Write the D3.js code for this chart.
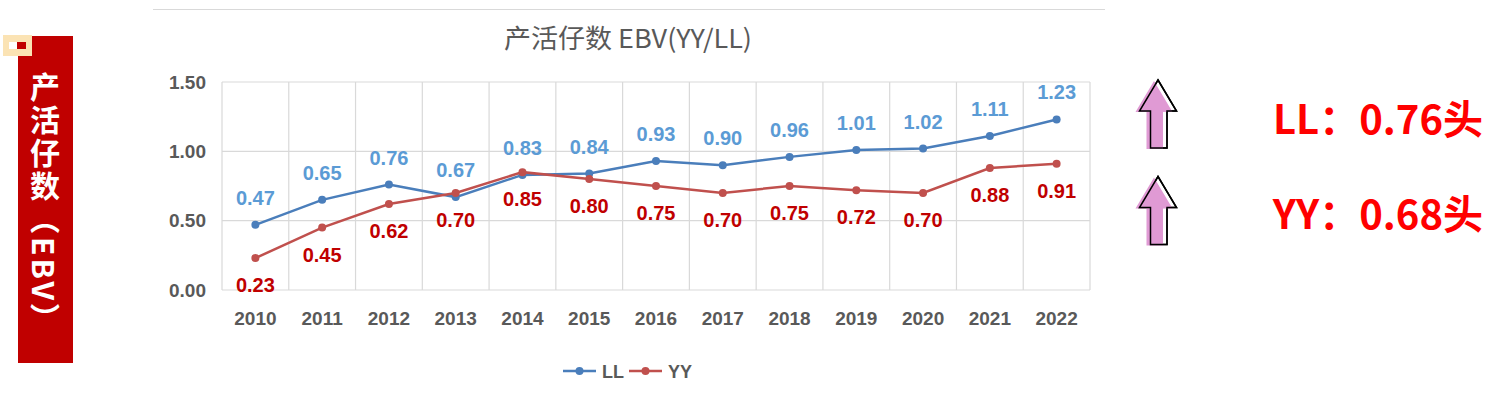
<!DOCTYPE html>
<html>
<head>
<meta charset="utf-8">
<script src="https://cdn.jsdelivr.net/npm/d3@7"></script>
<style>
  body { margin: 0; background: #fff; }
  svg { display: block; }
</style>
</head>
<body>
<div id="chart"></div>
<script>
const years = ["2010", "2011", "2012", "2013", "2014", "2015", "2016", "2017", "2018", "2019", "2020", "2021", "2022"];
const llValues = [0.47, 0.65, 0.76, 0.67, 0.83, 0.84, 0.93, 0.90, 0.96, 1.01, 1.02, 1.11, 1.23];
const yyValues = [0.23, 0.45, 0.62, 0.70, 0.85, 0.80, 0.75, 0.70, 0.75, 0.72, 0.70, 0.88, 0.91];
const yTicks = [0, 0.5, 1.0, 1.5];
const gains = [["LL", "0.76"], ["YY", "0.68"]];

const W = 1494, H = 396;
const plot = {left: 222, right: 1090, top: 82, bottom: 290};
const numFont = "'Liberation Sans', Arial, sans-serif";
const cjkFont = "'Noto Sans CJK SC', sans-serif";

const svg = d3.select("#chart").append("svg")
  .attr("width", W).attr("height", H);

// side banner
svg.append("rect").attr("x", 18).attr("y", 36).attr("width", 55).attr("height", 327).attr("fill", "#c00000");
svg.append("rect").attr("x", 3).attr("y", 35).attr("width", 29).attr("height", 21).attr("fill", "#fbe3b4");
svg.append("rect").attr("x", 9).attr("y", 42).attr("width", 8).attr("height", 7).attr("fill", "#fff");
svg.append("rect").attr("x", 17).attr("y", 42).attr("width", 9).attr("height", 7).attr("fill", "#c00000");
svg.append("text")
  .attr("x", 45).attr("y", 72)
  .attr("writing-mode", "vertical-rl")
  .attr("fill", "#fff")
  .attr("font-family", cjkFont)
  .attr("font-weight", "bold")
  .attr("font-size", 30)
  .attr("letter-spacing", 3)
  .text("产活仔数（EBV）");

// top rule
svg.append("line").attr("x1", 153).attr("x2", 1105).attr("y1", 9.5).attr("y2", 9.5)
  .attr("stroke", "#d9d9d9").attr("stroke-width", 1);

// title
svg.append("text")
  .attr("x", 628).attr("y", 48)
  .attr("text-anchor", "middle")
  .attr("fill", "#595959")
  .attr("font-family", cjkFont)
  .attr("font-size", 26)
  .attr("textLength", 248)
  .attr("lengthAdjust", "spacingAndGlyphs")
  .text("产活仔数 EBV(YY/LL)");

const x = d3.scaleBand().domain(years).range([plot.left, plot.right]);
const y = d3.scaleLinear().domain([0, 1.5]).range([plot.bottom, plot.top]);
const cx = d => x(d) + x.bandwidth() / 2;

// grid
const grid = svg.append("g").attr("stroke", "#d9d9d9").attr("stroke-width", 1.2);
grid.selectAll(".h").data(yTicks).enter().append("line")
  .attr("x1", plot.left).attr("x2", plot.right)
  .attr("y1", d => y(d)).attr("y2", d => y(d));
grid.selectAll(".v").data(years.concat(["end"])).enter().append("line")
  .attr("x1", (d, i) => plot.left + i * x.bandwidth())
  .attr("x2", (d, i) => plot.left + i * x.bandwidth())
  .attr("y1", plot.top).attr("y2", plot.bottom);

// axes
const yAxis = svg.append("g")
  .attr("transform", `translate(${plot.left},0)`)
  .call(d3.axisLeft(y).tickValues(yTicks).tickFormat(d3.format(".2f")).tickSize(0).tickPadding(16));
const xAxis = svg.append("g")
  .attr("transform", `translate(0,${plot.bottom})`)
  .call(d3.axisBottom(x).tickSize(0).tickPadding(22));
[xAxis, yAxis].forEach(a => {
  a.select(".domain").remove();
  a.selectAll("text")
    .attr("fill", "#595959")
    .attr("font-family", numFont)
    .attr("font-weight", "bold")
    .attr("font-size", 19);
});

const series = [
  {name: "LL", values: llValues, line: "#4a7ebb", label: "#5b9bd5", dy: -20},
  {name: "YY", values: yyValues, line: "#c0504d", label: "#c00000", dy: 34}
];

const line = d3.line().x((d, i) => cx(years[i])).y(d => y(d));

series.forEach(s => {
  svg.append("path").datum(s.values)
    .attr("d", line)
    .attr("fill", "none")
    .attr("stroke", s.line)
    .attr("stroke-width", 2.5);
  svg.selectAll(".pt-" + s.name).data(s.values).enter().append("circle")
    .attr("cx", (d, i) => cx(years[i]))
    .attr("cy", d => y(d))
    .attr("r", 4)
    .attr("fill", s.line);
  svg.selectAll(".lb-" + s.name).data(s.values).enter().append("text")
    .attr("x", (d, i) => cx(years[i]))
    .attr("y", d => y(d) + s.dy)
    .attr("text-anchor", "middle")
    .attr("fill", s.label)
    .attr("font-family", numFont)
    .attr("font-weight", "bold")
    .attr("font-size", 20)
    .text(d => d.toFixed(2));
});

// legend
const legend = svg.append("g").attr("transform", "translate(563,371)");
series.forEach((s, i) => {
  const g = legend.append("g").attr("transform", `translate(${i * 66},0)`);
  g.append("line").attr("x1", 0).attr("x2", 33).attr("stroke", s.line).attr("stroke-width", 2.5);
  g.append("circle").attr("cx", 16.5).attr("r", 4).attr("fill", s.line);
  g.append("text").attr("x", 39).attr("y", 6.5)
    .attr("fill", "#595959")
    .attr("font-family", numFont)
    .attr("font-weight", "bold")
    .attr("font-size", 18)
    .text(s.name);
});

// arrows and gains
const arrowPts = [[0, 0], [18.5, 31], [9, 31], [9, 68], [-7.5, 68], [-7.5, 31], [-18.5, 31]];
const arrowPath = d3.line()(arrowPts) + "Z";
gains.forEach((gn, i) => {
  const top = 80 + i * 96.5;
  const g = svg.append("g").attr("transform", `translate(1158,${top})`);
  g.append("path").attr("d", arrowPath).attr("fill", "#fff").attr("stroke", "#000").attr("stroke-width", 1.5);
  g.append("path").attr("d", arrowPath).attr("transform", "translate(-4,1)").attr("fill", "#e09ad4");
  g.append("path").attr("d", arrowPath).attr("fill", "none").attr("stroke", "#000").attr("stroke-width", 1.5);
  svg.append("text")
    .attr("x", 1483).attr("y", 134 + i * 95)
    .attr("text-anchor", "end")
    .attr("fill", "#ff0000")
    .attr("font-family", cjkFont)
    .attr("font-weight", "bold")
    .attr("font-size", 40)
    .text(gn[0] + "：" + gn[1] + "头");
});
</script>
</body>
</html>
